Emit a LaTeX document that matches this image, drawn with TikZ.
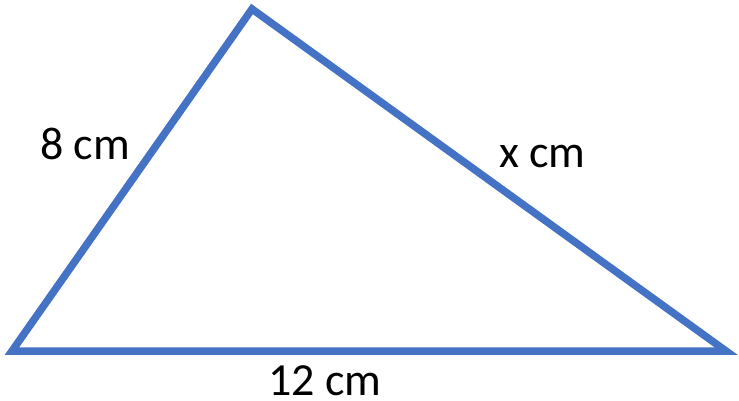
\documentclass[tikz,border=0pt]{standalone}
\usepackage{fontspec}
\setmainfont{Carlito}
\definecolor{triblue}{HTML}{4472C4}
\tikzset{
  side/.style={draw=triblue, line width=7.5pt, line join=miter},
  lbl/.style={anchor=base west, inner sep=0pt, font=\fontsize{46}{50}\selectfont}
}
\begin{document}
\begin{tikzpicture}[x=1pt,y=-1pt]
\useasboundingbox (0,0) rectangle (739,400);
\coordinate (A) at (12,351);
\coordinate (B) at (252,9);
\coordinate (C) at (726,351);
\draw[side] (A) -- (B) -- (C) -- cycle;
\node[lbl] (l8) at (40,159) {8 cm};
\node[lbl] (lx) at (499,167) {x cm};
\node[lbl] (l12) at (268,395) {12 cm};
\end{tikzpicture}
\end{document}
